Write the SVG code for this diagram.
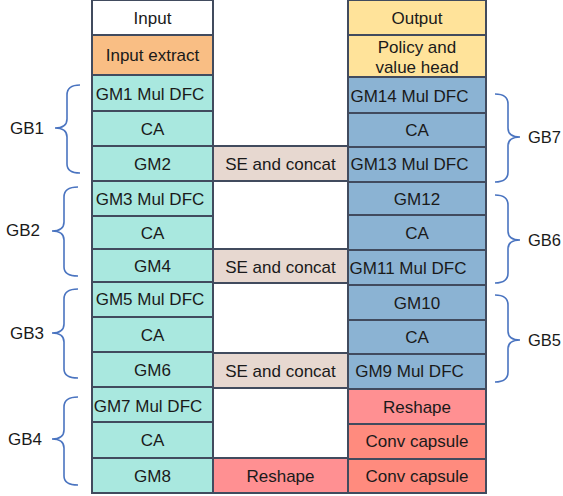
<svg xmlns="http://www.w3.org/2000/svg" width="563" height="496" viewBox="0 0 563 496">
  <style>
    .box { stroke: #414B5E; stroke-width: 2; }
    .t { font-family: "Liberation Sans", Arial, sans-serif; font-size: 17px; fill: #1a1a1a; text-anchor: middle; dominant-baseline: central; }
    .lbl { font-family: "Liberation Sans", Arial, sans-serif; font-size: 17px; fill: #1a1a1a; dominant-baseline: central; }
    .lbl-r { font-family: "Liberation Sans", Arial, sans-serif; font-size: 16.5px; fill: #1a1a1a; dominant-baseline: central; }
    .brace { fill: none; stroke: #4A74C0; stroke-width: 1.6; }
    .white { fill: #FFFFFF; }
    .orange { fill: #F9BE84; }
    .teal { fill: #A9E8DF; }
    .yellow { fill: #FFE39A; }
    .blue { fill: #8BB3D3; }
    .beige { fill: #E7D8D0; }
    .pink { fill: #FF9092; }
    .salmon { fill: #FF8B7E; }
  </style>

  <!-- left stack -->
  <g id="input"><rect class="box white" x="92" y="0" width="121" height="35"/><text class="t" x="152.5" y="18">Input</text></g>
  <g id="input-extract"><rect class="box orange" x="92" y="35" width="121" height="40"/><text class="t" x="152.5" y="55">Input extract</text></g>
  <g id="gm1"><rect class="box teal" x="92" y="75" width="121" height="36"/><text class="t" x="150" y="94">GM1 Mul DFC</text></g>
  <g id="ca1"><rect class="box teal" x="92" y="111" width="121" height="35"/><text class="t" x="152.5" y="129">CA</text></g>
  <g id="gm2"><rect class="box teal" x="92" y="146" width="121" height="35"/><text class="t" x="152.5" y="164">GM2</text></g>
  <g id="gm3"><rect class="box teal" x="92" y="181" width="121" height="35"/><text class="t" x="150" y="199">GM3 Mul DFC</text></g>
  <g id="ca2"><rect class="box teal" x="92" y="216" width="121" height="33"/><text class="t" x="152.5" y="233">CA</text></g>
  <g id="gm4"><rect class="box teal" x="92" y="249" width="121" height="33"/><text class="t" x="152.5" y="266">GM4</text></g>
  <g id="gm5"><rect class="box teal" x="92" y="282" width="121" height="35"/><text class="t" x="150" y="299">GM5 Mul DFC</text></g>
  <g id="ca3"><rect class="box teal" x="92" y="317" width="121" height="35"/><text class="t" x="152.5" y="335">CA</text></g>
  <g id="gm6"><rect class="box teal" x="92" y="352" width="121" height="35"/><text class="t" x="152.5" y="370">GM6</text></g>
  <g id="gm7"><rect class="box teal" x="92" y="387" width="121" height="35"/><text class="t" x="148" y="406">GM7 Mul DFC</text></g>
  <g id="ca4"><rect class="box teal" x="92" y="422" width="121" height="36"/><text class="t" x="152.5" y="440">CA</text></g>
  <g id="gm8"><rect class="box teal" x="92" y="458" width="121" height="35"/><text class="t" x="152.5" y="476">GM8</text></g>

  <!-- middle links -->
  <g id="se1"><rect class="box beige" x="213" y="146" width="135" height="35"/><text class="t" x="280.5" y="164">SE and concat</text></g>
  <g id="se2"><rect class="box beige" x="213" y="249" width="135" height="34"/><text class="t" x="280.5" y="267">SE and concat</text></g>
  <g id="se3"><rect class="box beige" x="213" y="353" width="135" height="35"/><text class="t" x="280.5" y="371">SE and concat</text></g>
  <g id="reshape-mid"><rect class="box pink" x="213" y="458" width="135" height="35"/><text class="t" x="280.5" y="476">Reshape</text></g>

  <!-- right stack -->
  <g id="output"><rect class="box yellow" x="348" y="0" width="138" height="35"/><text class="t" x="417" y="18">Output</text></g>
  <g id="policy-value"><rect class="box yellow" x="348" y="35" width="138" height="42"/><text class="t" x="417" y="47">Policy and</text><text class="t" x="417" y="67">value head</text></g>
  <g id="gm14"><rect class="box blue" x="348" y="77" width="138" height="36"/><text class="t" x="409.5" y="96">GM14 Mul DFC</text></g>
  <g id="ca7"><rect class="box blue" x="348" y="113" width="138" height="34"/><text class="t" x="417" y="130">CA</text></g>
  <g id="gm13"><rect class="box blue" x="348" y="147" width="138" height="35"/><text class="t" x="409.5" y="164">GM13 Mul DFC</text></g>
  <g id="gm12"><rect class="box blue" x="348" y="182" width="138" height="33"/><text class="t" x="417" y="199">GM12</text></g>
  <g id="ca6"><rect class="box blue" x="348" y="215" width="138" height="35"/><text class="t" x="417" y="233">CA</text></g>
  <g id="gm11"><rect class="box blue" x="348" y="250" width="138" height="35"/><text class="t" x="408" y="268">GM11 Mul DFC</text></g>
  <g id="gm10"><rect class="box blue" x="348" y="285" width="138" height="35"/><text class="t" x="417" y="303">GM10</text></g>
  <g id="ca5"><rect class="box blue" x="348" y="320" width="138" height="34"/><text class="t" x="417" y="337">CA</text></g>
  <g id="gm9"><rect class="box blue" x="348" y="354" width="138" height="35"/><text class="t" x="409.5" y="371">GM9 Mul DFC</text></g>
  <g id="reshape-right"><rect class="box pink" x="348" y="389" width="138" height="35"/><text class="t" x="417" y="407">Reshape</text></g>
  <g id="conv-capsule-1"><rect class="box salmon" x="348" y="424" width="138" height="35"/><text class="t" x="417" y="441">Conv capsule</text></g>
  <g id="conv-capsule-2"><rect class="box salmon" x="348" y="459" width="138" height="34"/><text class="t" x="417" y="476">Conv capsule</text></g>

  <!-- group braces -->
  <g id="braces">
    <path class="brace" d="M80,85 Q67,85 67,95 L67,119 Q67,128 55,128 Q67,128 67,137 L67,164 Q67,173 80,173"/>
    <path class="brace" d="M78,187 Q64,187 64,197 L64,222 Q64,231 52,231 Q64,231 64,240 L64,267 Q64,276 78,276"/>
    <path class="brace" d="M78,289 Q64,289 64,299 L64,324 Q64,333 52,333 Q64,333 64,342 L64,369 Q64,378 78,378"/>
    <path class="brace" d="M78,397 Q64,397 64,407 L64,430 Q64,439 52,439 Q64,439 64,448 L64,476 Q64,485 78,485"/>
    <path class="brace" d="M495,94 Q508,94 508,104 L508,128 Q508,137 520,137 Q508,137 508,146 L508,172 Q508,182 495,182"/>
    <path class="brace" d="M495,195 Q508,195 508,205 L508,231 Q508,240 520,240 Q508,240 508,249 L508,273 Q508,283 495,283"/>
    <path class="brace" d="M495,295 Q508,295 508,305 L508,331 Q508,340 520,340 Q508,340 508,349 L508,372 Q508,382 495,382"/>
  </g>

  <!-- group labels -->
  <g id="labels">
    <text class="lbl" x="10" y="128">GB1</text>
    <text class="lbl" x="6" y="230">GB2</text>
    <text class="lbl" x="10" y="333">GB3</text>
    <text class="lbl" x="8" y="439">GB4</text>
    <text class="lbl-r" x="528" y="137">GB7</text>
    <text class="lbl-r" x="528" y="240">GB6</text>
    <text class="lbl-r" x="528" y="340">GB5</text>
  </g>
</svg>
